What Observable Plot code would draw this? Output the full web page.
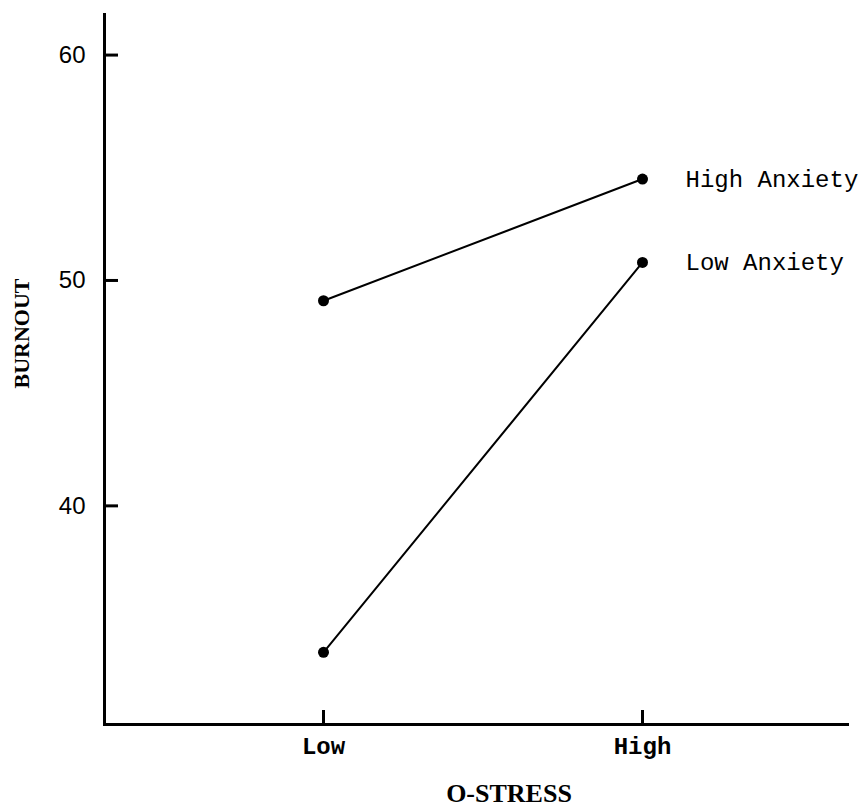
<!DOCTYPE html>
<html>
<head>
<meta charset="utf-8">
<script src="https://cdn.jsdelivr.net/npm/d3@7"></script>
<script src="https://cdn.jsdelivr.net/npm/@observablehq/plot@0.6"></script>
<style>
  html, body { margin: 0; padding: 0; background: #fff; }
  #chart svg { display: block; }
</style>
</head>
<body>
<div id="chart"></div>
<script>
// ---- data ----
const stressLevels = ["Low", "High"];
const seriesNames = ["High Anxiety", "Low Anxiety"];
const highAnxietyBurnout = [49.1, 54.5];
const lowAnxietyBurnout = [33.5, 50.8];
const yTicks = [40, 50, 60];
const yDomain = [30.3, 61.8];
const xTitle = "O-STRESS";
const yTitle = "BURNOUT";

const rows = [];
stressLevels.forEach((s, i) => {
  rows.push({series: seriesNames[0], stress: s, burnout: highAnxietyBurnout[i]});
  rows.push({series: seriesNames[1], stress: s, burnout: lowAnxietyBurnout[i]});
});
const lastPoints = rows.filter(d => d.stress === "High");

const chart = Plot.plot({
  width: 866,
  height: 807,
  marginTop: 14,
  marginBottom: 83,
  marginLeft: 104,
  marginRight: 19,
  style: {background: "white", color: "black", overflow: "visible"},
  x: {type: "point", domain: stressLevels, range: [323, 642], padding: 0},
  y: {domain: yDomain},
  marks: [
    // axis lines
    Plot.frame({anchor: "left", stroke: "black", strokeWidth: 3}),
    Plot.frame({anchor: "bottom", stroke: "black", strokeWidth: 3}),
    // y axis inward ticks
    Plot.axisY({ticks: yTicks, tickSize: -14, tickFormat: () => "", strokeWidth: 3, label: null}),
    // y tick labels
    Plot.axisY({ticks: yTicks, tickSize: 0, tickPadding: 19, fontSize: 24, fontFamily: "Liberation Sans, Arial, sans-serif", label: null}),
    // x axis inward ticks
    Plot.axisX({tickSize: -14, tickFormat: () => "", strokeWidth: 3, label: null}),
    // x tick labels
    Plot.axisX({tickSize: 0, tickPadding: 12, fontSize: 24, fontWeight: "bold", fontFamily: "Liberation Mono, monospace", label: null}),
    // lines & points
    Plot.line(rows, {x: "stress", y: "burnout", z: "series", stroke: "black", strokeWidth: 2}),
    Plot.dot(rows, {x: "stress", y: "burnout", r: 5.5, fill: "black"}),
    // series labels
    Plot.text(lastPoints, {x: "stress", y: "burnout", text: "series", textAnchor: "start", dx: 43,
      fontSize: 24, fontFamily: "Liberation Mono, monospace", fill: "black"}),
    // axis titles
    Plot.text([xTitle], {frameAnchor: "bottom", dx: 33, dy: 77, text: d => d, fontSize: 26, fontWeight: "bold",
      letterSpacing: 4, fontFamily: "Liberation Serif, serif", fill: "black"}),
    Plot.text([yTitle], {frameAnchor: "left", dx: -83, dy: 19, rotate: -90, text: d => d, fontSize: 22, fontWeight: "bold",
      fontFamily: "Liberation Serif, serif", fill: "black"})
  ]
});
document.getElementById("chart").appendChild(chart);
</script>
</body>
</html>
